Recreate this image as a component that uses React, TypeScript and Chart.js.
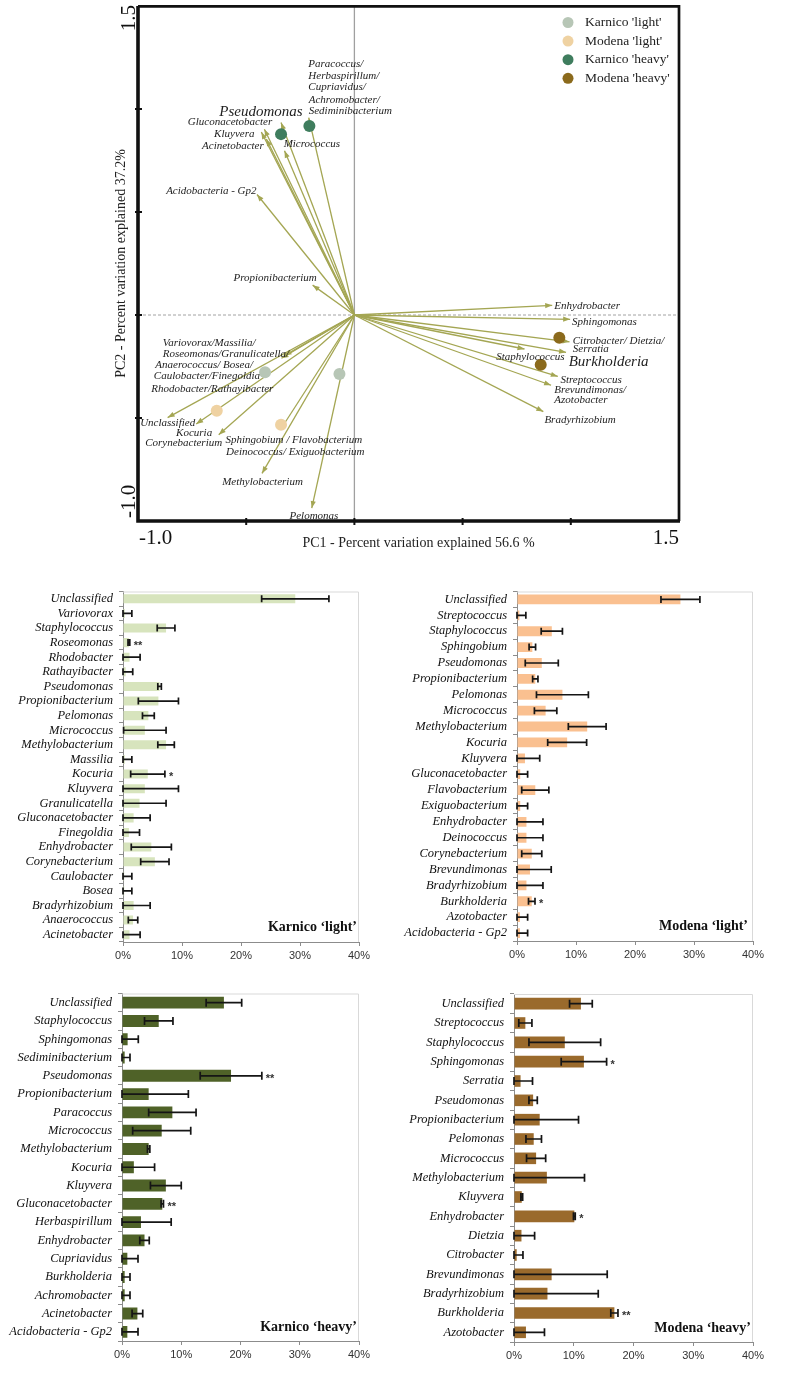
import React, { useEffect, useRef } from "react";
import { Chart, registerables } from "chart.js";

Chart.register(...registerables);

const SERIF = '"Liberation Serif", "Times New Roman", serif';
const SANS = '"Liberation Sans", Arial, sans-serif';

// ---------------- Biplot data ----------------
const groupNames = ["Karnico 'light'", "Modena 'light'", "Karnico 'heavy'", "Modena 'heavy'"];
const groupColors = ["#b7c6b6", "#efd2a2", "#3f7d5e", "#8b6a1c"];
const groupPC1 = [
  [-0.413, -0.069],
  [-0.636, -0.339],
  [-0.339, -0.208],
  [0.947, 0.861],
];
const groupPC2 = [
  [-0.278, -0.286],
  [-0.465, -0.533],
  [0.878, 0.918],
  [-0.11, -0.241],
];

const arrowNames = [
  "Pseudomonas",
  "Gluconacetobacter",
  "Kluyvera",
  "Acinetobacter",
  "Micrococcus",
  "Paracoccus/Herbaspirillum/Cupriavidus/Achromobacter/Sediminibacterium",
  "Acidobacteria - Gp2",
  "Propionibacterium",
  "Variovorax/Massilia/Roseomonas/Granulicatella",
  "Anaerococcus/Bosea/Caulobacter/Finegoldia/Rhodobacter/Rathayibacter",
  "Unclassified",
  "Kocuria",
  "Corynebacterium",
  "Sphingobium/Flavobacterium/Deinococcus/Exiguobacterium",
  "Methylobacterium",
  "Pelomonas",
  "Enhydrobacter",
  "Sphingomonas",
  "Citrobacter/Dietzia/Serratia",
  "Staphylococcus",
  "Burkholderia",
  "Streptococcus",
  "Brevundimonas/Azotobacter",
  "Bradyrhizobium",
];
const arrowPC1 = [
  -0.339, -0.416, -0.43, -0.407, -0.323, -0.211, -0.45, -0.193, -0.323, -0.337,
  -0.863, -0.731, -0.627, -0.342, -0.427, -0.197, 0.914, 0.997, 0.994, 0.786,
  0.978, 0.94, 0.909, 0.873,
];
const arrowPC2 = [
  0.934, 0.902, 0.888, 0.854, 0.797, 0.958, 0.585, 0.145, -0.197, -0.21,
  -0.498, -0.529, -0.581, -0.557, -0.769, -0.937, 0.047, -0.021, -0.13, -0.165,
  -0.181, -0.298, -0.341, -0.469,
];

// label placements (data coordinates): text, pc1, pc2, align, size
const biplotLabels: [string, number, number, CanvasTextAlign, number][] = [
  ["Paracoccus/", -0.213, 1.217, "left", 11],
  ["Herbaspirillum/", -0.213, 1.161, "left", 11],
  ["Cupriavidus/", -0.213, 1.104, "left", 11],
  ["Achromobacter/", -0.211, 1.045, "left", 11],
  ["Sediminibacterium", -0.211, 0.99, "left", 11],
  ["Pseudomonas", -0.239, 0.987, "right", 15],
  ["Gluconacetobacter", -0.38, 0.934, "right", 11],
  ["Kluyvera", -0.462, 0.878, "right", 11],
  ["Acinetobacter", -0.419, 0.822, "right", 11],
  ["Micrococcus", -0.327, 0.83, "left", 11],
  ["Acidobacteria - Gp2", -0.87, 0.6, "left", 11],
  ["Propionibacterium", -0.559, 0.178, "left", 11],
  ["Variovorax/Massilia/", -0.886, -0.138, "left", 11],
  ["Roseomonas/Granulicatella/", -0.886, -0.19, "left", 11],
  ["Anaerococcus/ Bosea/", -0.92, -0.245, "left", 11],
  ["Caulobacter/Finegoldia", -0.927, -0.298, "left", 11],
  ["Rhodobacter/Rathayibacter", -0.939, -0.358, "left", 11],
  ["Unclassified", -0.99, -0.524, "left", 11],
  ["Kocuria", -0.824, -0.574, "left", 11],
  ["Corynebacterium", -0.967, -0.622, "left", 11],
  ["Sphingobium / Flavobacterium", -0.596, -0.609, "left", 11],
  ["Deinococcus/ Exiguobacterium", -0.593, -0.668, "left", 11],
  ["Methylobacterium", -0.611, -0.81, "left", 11],
  ["Pelomonas", -0.3, -0.974, "left", 11],
  ["Enhydrobacter", 0.924, 0.042, "left", 11],
  ["Sphingomonas", 1.006, -0.034, "left", 11],
  ["Citrobacter/ Dietzia/", 1.009, -0.125, "left", 11],
  ["Serratia", 1.009, -0.165, "left", 11],
  ["Staphylococcus", 0.655, -0.202, "left", 11],
  ["Burkholderia", 0.99, -0.229, "left", 15],
  ["Streptococcus", 0.952, -0.317, "left", 11],
  ["Brevundimonas/", 0.924, -0.366, "left", 11],
  ["Azotobacter", 0.924, -0.414, "left", 11],
  ["Bradyrhizobium", 0.878, -0.51, "left", 11],
];

const pc1Title = "PC1 - Percent variation explained 56.6 %";
const pc2Title = "PC2 - Percent variation explained 37.2%";
const biplotTicks = [-0.5, 0, 0.5, 1.0];
const ARROW = "#a4a653";

// ---------------- Bar panel data ----------------
const klLabels = [
  "Unclassified", "Variovorax", "Staphylococcus", "Roseomonas", "Rhodobacter", "Rathayibacter",
  "Pseudomonas", "Propionibacterium", "Pelomonas", "Micrococcus", "Methylobacterium", "Massilia",
  "Kocuria", "Kluyvera", "Granulicatella", "Gluconacetobacter", "Finegoldia", "Enhydrobacter",
  "Corynebacterium", "Caulobacter", "Bosea", "Bradyrhizobium", "Anaerococcus", "Acinetobacter",
];
const klValues = [29.2, 0.3, 7.3, 1.0, 1.1, 0.45, 6.2, 6.0, 4.3, 3.7, 7.3, 0.3, 4.2, 3.7, 2.8, 1.8, 1.0, 4.8, 5.4, 0.2, 0.2, 1.8, 1.7, 1.1];
const klErrors = [5.7, 1.2, 1.5, 0.15, 1.8, 1.2, 0.3, 3.4, 1.0, 3.6, 1.4, 1.2, 2.9, 5.7, 4.5, 2.8, 1.8, 3.4, 2.4, 1.3, 1.3, 2.8, 0.8, 1.8];
const klStars = ["", "", "", "**", "", "", "", "", "", "", "", "", "*", "", "", "", "", "", "", "", "", "", "", ""];

const mlLabels = [
  "Unclassified", "Streptococcus", "Staphylococcus", "Sphingobium", "Pseudomonas", "Propionibacterium",
  "Pelomonas", "Micrococcus", "Methylobacterium", "Kocuria", "Kluyvera", "Gluconacetobacter",
  "Flavobacterium", "Exiguobacterium", "Enhydrobacter", "Deinococcus", "Corynebacterium",
  "Brevundimonas", "Bradyrhizobium", "Burkholderia", "Azotobacter", "Acidobacteria - Gp2",
];
const mlValues = [27.7, 0.4, 5.9, 2.6, 4.2, 3.1, 7.7, 4.85, 11.9, 8.5, 1.35, 0.55, 3.1, 0.55, 1.6, 1.6, 2.5, 2.2, 1.6, 2.5, 0.5, 0.5];
const mlErrors = [3.3, 1.1, 1.8, 0.55, 2.8, 0.45, 4.4, 1.9, 3.2, 3.3, 2.5, 1.25, 2.3, 1.25, 2.8, 2.8, 1.7, 3.6, 2.8, 0.55, 1.3, 1.3];
const mlStars = ["", "", "", "", "", "", "", "", "", "", "", "", "", "", "", "", "", "", "", "*", "", ""];

const khLabels = [
  "Unclassified", "Staphylococcus", "Sphingomonas", "Sediminibacterium", "Pseudomonas",
  "Propionibacterium", "Paracoccus", "Micrococcus", "Methylobacterium", "Kocuria", "Kluyvera",
  "Gluconacetobacter", "Herbaspirillum", "Enhydrobacter", "Cupriavidus", "Burkholderia",
  "Achromobacter", "Acinetobacter", "Acidobacteria - Gp2",
];
const khValues = [17.2, 6.2, 0.95, 0.45, 18.4, 4.5, 8.5, 6.7, 4.5, 2.0, 7.4, 6.8, 3.2, 3.8, 0.9, 0.45, 0.45, 2.6, 0.9];
const khErrors = [3.0, 2.4, 1.8, 0.9, 5.2, 6.7, 4.0, 4.9, 0.2, 3.5, 2.6, 0.2, 5.1, 0.8, 1.8, 0.9, 0.9, 0.9, 1.8];
const khStars = ["", "", "", "", "**", "", "", "", "", "", "", "**", "", "", "", "", "", "", ""];

const mhLabels = [
  "Unclassified", "Streptococcus", "Staphylococcus", "Sphingomonas", "Serratia", "Pseudomonas",
  "Propionibacterium", "Pelomonas", "Micrococcus", "Methylobacterium", "Kluyvera", "Enhydrobacter",
  "Dietzia", "Citrobacter", "Brevundimonas", "Bradyrhizobium", "Burkholderia", "Azotobacter",
];
const mhValues = [11.2, 1.9, 8.5, 11.7, 1.1, 3.2, 4.3, 3.3, 3.7, 5.5, 1.3, 10.1, 1.25, 0.45, 6.3, 5.6, 16.8, 2.0];
const mhErrors = [1.9, 1.1, 6.0, 3.8, 2.0, 0.7, 6.5, 1.3, 1.6, 6.3, 0.15, 0.15, 2.2, 1.05, 9.3, 8.5, 0.6, 3.1];
const mhStars = ["", "", "", "*", "", "", "", "", "", "", "", "*", "", "", "", "", "**", ""];

const xTickValues = [0, 10, 20, 30, 40];

// ---------------- Biplot ----------------
const biplotPlugin = {
  id: "biplotDecor",
  beforeDatasetsDraw(chart: any) {
    const { ctx, chartArea: a, scales } = chart;
    const x0 = scales.x.getPixelForValue(0);
    const y0 = scales.y.getPixelForValue(0);
    ctx.save();
    ctx.strokeStyle = "#a0a0a0";
    ctx.lineWidth = 1.3;
    ctx.beginPath();
    ctx.moveTo(x0, a.top);
    ctx.lineTo(x0, a.bottom);
    ctx.stroke();
    ctx.setLineDash([3, 2]);
    ctx.strokeStyle = "#8a8a8a";
    ctx.lineWidth = 0.8;
    ctx.beginPath();
    ctx.moveTo(a.left, y0);
    ctx.lineTo(a.right, y0);
    ctx.stroke();
    ctx.restore();
  },
  afterDatasetDraw(chart: any, args: any) {
    const ds = chart.data.datasets[args.index];
    if (!ds.isArrow) return;
    const pts = args.meta.data;
    const p0 = pts[0], p1 = pts[1];
    const ang = Math.atan2(p1.y - p0.y, p1.x - p0.x);
    const len = 7, hw = 2.6;
    const { ctx } = chart;
    ctx.save();
    ctx.fillStyle = ARROW;
    ctx.beginPath();
    ctx.moveTo(p1.x, p1.y);
    ctx.lineTo(p1.x - len * Math.cos(ang) - hw * Math.sin(ang), p1.y - len * Math.sin(ang) + hw * Math.cos(ang));
    ctx.lineTo(p1.x - len * Math.cos(ang) + hw * Math.sin(ang), p1.y - len * Math.sin(ang) - hw * Math.cos(ang));
    ctx.closePath();
    ctx.fill();
    ctx.restore();
  },
  afterDraw(chart: any) {
    const { ctx, chartArea: a, scales } = chart;
    const xs = scales.x, ys = scales.y;
    ctx.save();
    // frame
    ctx.strokeStyle = "#111";
    ctx.lineWidth = 2.7;
    ctx.beginPath();
    ctx.moveTo(a.left, a.top + 0.3);
    ctx.lineTo(a.right, a.top + 0.3);
    ctx.lineTo(a.right, a.bottom);
    ctx.stroke();
    ctx.lineWidth = 3.6;
    ctx.beginPath();
    ctx.moveTo(a.left, a.top);
    ctx.lineTo(a.left, a.bottom);
    ctx.lineTo(a.right + 1, a.bottom);
    ctx.stroke();
    // ticks
    ctx.lineWidth = 2;
    biplotTicks.forEach((t) => {
      const py = ys.getPixelForValue(t);
      ctx.beginPath();
      ctx.moveTo(a.left - 3, py);
      ctx.lineTo(a.left + 4, py);
      ctx.stroke();
      const px = xs.getPixelForValue(t);
      ctx.beginPath();
      ctx.moveTo(px, a.bottom - 3);
      ctx.lineTo(px, a.bottom + 4);
      ctx.stroke();
    });
    // tick labels
    ctx.fillStyle = "#111";
    ctx.font = `21px ${SERIF}`;
    ctx.textBaseline = "alphabetic";
    ctx.textAlign = "left";
    ctx.fillText(xs.min.toFixed(1), a.left + 1, a.bottom + 23);
    ctx.textAlign = "right";
    ctx.fillText(xs.max.toFixed(1), a.right, a.bottom + 23);
    ctx.save();
    ctx.translate(a.left - 3, ys.getPixelForValue(ys.max) - 1);
    ctx.rotate(-Math.PI / 2);
    ctx.textAlign = "right";
    ctx.fillText(ys.max.toFixed(1), 0, 0);
    ctx.restore();
    ctx.save();
    ctx.translate(a.left - 3, ys.getPixelForValue(ys.min) - 3);
    ctx.rotate(-Math.PI / 2);
    ctx.textAlign = "left";
    ctx.fillText(ys.min.toFixed(1), 0, 0);
    ctx.restore();
    // axis titles
    ctx.font = `14px ${SERIF}`;
    ctx.fillStyle = "#222";
    ctx.textAlign = "center";
    ctx.fillText(pc1Title, (a.left + a.right) / 2 + 10, a.bottom + 26);
    ctx.save();
    ctx.translate(a.left - 13, (a.top + a.bottom) / 2);
    ctx.rotate(-Math.PI / 2);
    ctx.fillText(pc2Title, 0, 0);
    ctx.restore();
    // arrow labels
    ctx.textBaseline = "middle";
    ctx.fillStyle = "#222";
    biplotLabels.forEach(([txt, lx, ly, al, sz]) => {
      ctx.font = `italic ${sz}px ${SERIF}`;
      ctx.textAlign = al;
      ctx.fillText(txt, xs.getPixelForValue(lx), ys.getPixelForValue(ly));
    });
    // legend
    ctx.font = `13.5px ${SERIF}`;
    ctx.textAlign = "left";
    groupNames.forEach((g, i) => {
      const cy = a.top + 16.5 + i * 18.6;
      ctx.fillStyle = groupColors[i];
      ctx.beginPath();
      ctx.arc(a.right - 111, cy, 5.5, 0, Math.PI * 2);
      ctx.fill();
      ctx.fillStyle = "#222";
      ctx.fillText(g, a.right - 94, cy);
    });
    ctx.restore();
  },
};

function Biplot() {
  const ref = useRef<HTMLCanvasElement>(null);
  useEffect(() => {
    const datasets: any[] = [];
    groupNames.forEach((g, i) => {
      datasets.push({
        label: g,
        data: groupPC1[i].map((x, j) => ({ x, y: groupPC2[i][j] })),
        pointRadius: 6,
        pointBackgroundColor: groupColors[i],
        pointBorderWidth: 0,
        backgroundColor: groupColors[i],
        borderColor: groupColors[i],
        showLine: false,
        order: 0,
      });
    });
    arrowNames.forEach((n, i) => {
      datasets.push({
        label: n,
        isArrow: true,
        data: [
          { x: 0, y: 0 },
          { x: arrowPC1[i], y: arrowPC2[i] },
        ],
        showLine: true,
        borderColor: ARROW,
        borderWidth: 1.3,
        pointRadius: 0,
        pointHoverRadius: 0,
        fill: false,
        order: 1,
      });
    });
    const chart = new Chart(ref.current!, {
      type: "scatter",
      data: { datasets },
      options: {
        animation: false,
        responsive: false,
        devicePixelRatio: 1,
        layout: { padding: { left: 138, right: 108, top: 1, bottom: 39 } },
        plugins: { legend: { display: false }, tooltip: { enabled: false } },
        scales: {
          x: { type: "linear", min: -1.0, max: 1.5, display: false },
          y: { type: "linear", min: -1.0, max: 1.5, display: false },
        },
      } as any,
      plugins: [biplotPlugin as any],
    });
    return () => chart.destroy();
  }, []);
  return (
    <canvas
      ref={ref}
      width={787}
      height={560}
      style={{ position: "absolute", left: 0, top: 0, width: 787, height: 560, display: "block" }}
    />
  );
}

// ---------------- Bar panels ----------------
const errorBarPlugin = {
  id: "errorBars",
  afterDatasetsDraw(chart: any, _args: any, opts: any) {
    const { ctx, chartArea: a, scales } = chart;
    const xs = scales.x;
    const ds = chart.data.datasets[0];
    const meta = chart.getDatasetMeta(0);
    ctx.save();
    ctx.strokeStyle = "#d9d9d9";
    ctx.lineWidth = 1;
    ctx.beginPath();
    ctx.moveTo(a.left, a.top + 0.5);
    ctx.lineTo(a.right - 0.5, a.top + 0.5);
    ctx.lineTo(a.right - 0.5, a.bottom);
    ctx.stroke();
    meta.data.forEach((bar: any, i: number) => {
      const v = ds.data[i];
      const e = ds.errors[i];
      const lo = Math.max(0, v - e);
      const hi = v + e;
      const xl = xs.getPixelForValue(lo);
      const xh = xs.getPixelForValue(hi);
      const yc = bar.y;
      const c = opts.cap / 2;
      ctx.strokeStyle = "#151515";
      ctx.lineWidth = 1.7;
      ctx.beginPath();
      ctx.moveTo(xl, yc);
      ctx.lineTo(xh, yc);
      ctx.moveTo(xl, yc - c);
      ctx.lineTo(xl, yc + c);
      ctx.moveTo(xh, yc - c);
      ctx.lineTo(xh, yc + c);
      ctx.stroke();
      const s = ds.stars[i];
      if (s) {
        ctx.fillStyle = "#333";
        ctx.font = `bold 11px ${SANS}`;
        ctx.textAlign = "left";
        ctx.textBaseline = "middle";
        ctx.fillText(s, xh + 4, yc + 3);
      }
    });
    ctx.fillStyle = "#111";
    ctx.font = `bold 14px ${SERIF}`;
    ctx.textAlign = "right";
    ctx.textBaseline = "middle";
    ctx.fillText(opts.title, a.right - 2 + opts.titleDx, a.bottom - opts.titleDy);
    ctx.restore();
  },
};

type PanelProps = {
  labels: string[];
  values: number[];
  errors: number[];
  stars: string[];
  color: string;
  title: string;
  left: number;
  top: number;
  width: number;
  height: number;
  area: { l: number; r: number; t: number; b: number };
  barPct: number;
  cap: number;
  titleDx: number;
  titleDy: number;
};

function BarPanel(p: PanelProps) {
  const ref = useRef<HTMLCanvasElement>(null);
  useEffect(() => {
    const gray = "#8c8c8c";
    const chart = new Chart(ref.current!, {
      type: "bar",
      data: {
        labels: p.labels,
        datasets: [
          {
            data: p.values,
            errors: p.errors,
            stars: p.stars,
            backgroundColor: p.color,
            borderWidth: 0,
            barPercentage: p.barPct,
            categoryPercentage: 1,
          } as any,
        ],
      },
      options: {
        indexAxis: "y",
        animation: false,
        responsive: false,
        devicePixelRatio: 1,
        layout: { padding: { left: 0, top: p.area.t - p.top, right: p.left + p.width - p.area.r, bottom: 0 } },
        plugins: {
          legend: { display: false },
          tooltip: { enabled: false },
          errorBars: { cap: p.cap, title: p.title, titleDx: p.titleDx, titleDy: p.titleDy },
        },
        scales: {
          x: {
            min: 0,
            max: 40,
            afterBuildTicks: (s: any) => {
              s.ticks = xTickValues.map((v) => ({ value: v }));
            },
            ticks: {
              callback: (v: any) => v + "%",
              font: { family: SANS, size: 11 },
              color: "#333",
              padding: 3,
              maxRotation: 0,
            },
            grid: { drawOnChartArea: false, drawTicks: true, tickLength: 4, color: gray },
            border: { color: gray, width: 1 },
            afterFit: (s: any) => {
              s.height = p.top + p.height - p.area.b;
            },
          },
          y: {
            ticks: {
              font: { family: SERIF, size: 12.5, style: "italic" },
              color: "#111",
              padding: 6,
              autoSkip: false,
            },
            grid: { drawOnChartArea: false, drawTicks: true, tickLength: 4, color: gray, offset: true },
            border: { color: gray, width: 1 },
            afterFit: (s: any) => {
              s.width = p.area.l - p.left;
            },
          },
        },
      } as any,
      plugins: [errorBarPlugin as any],
    });
    return () => chart.destroy();
  }, []);
  return (
    <canvas
      ref={ref}
      width={p.width}
      height={p.height}
      style={{ position: "absolute", left: p.left, top: p.top, width: p.width, height: p.height, display: "block" }}
    />
  );
}

export default function App() {
  return (
    <div style={{ position: "absolute", left: 0, top: 0, width: 787, height: 1375, background: "#fff", overflow: "hidden" }}>
      <Biplot />
      <BarPanel
        labels={klLabels}
        values={klValues}
        errors={klErrors}
        stars={klStars}
        color="#d7e4bd"
        title="Karnico ‘light’"
        left={0}
        top={578}
        width={395}
        height={397}
        area={{ l: 123, r: 359, t: 588, b: 942 }}
        barPct={0.62}
        cap={7}
        titleDx={0}
        titleDy={15}
      />
      <BarPanel
        labels={mlLabels}
        values={mlValues}
        errors={mlErrors}
        stars={mlStars}
        color="#fac090"
        title="Modena ‘light’"
        left={395}
        top={578}
        width={392}
        height={397}
        area={{ l: 517, r: 753, t: 588, b: 941 }}
        barPct={0.62}
        cap={7}
        titleDx={-3}
        titleDy={15}
      />
      <BarPanel
        labels={khLabels}
        values={khValues}
        errors={khErrors}
        stars={khStars}
        color="#4f6228"
        title="Karnico ‘heavy’"
        left={0}
        top={980}
        width={395}
        height={395}
        area={{ l: 122, r: 359, t: 992, b: 1341 }}
        barPct={0.65}
        cap={8}
        titleDx={0}
        titleDy={14}
      />
      <BarPanel
        labels={mhLabels}
        values={mhValues}
        errors={mhErrors}
        stars={mhStars}
        color="#9a6a2c"
        title="Modena ‘heavy’"
        left={395}
        top={980}
        width={392}
        height={395}
        area={{ l: 514, r: 753, t: 994, b: 1342 }}
        barPct={0.6}
        cap={8}
        titleDx={0}
        titleDy={14}
      />
    </div>
  );
}
